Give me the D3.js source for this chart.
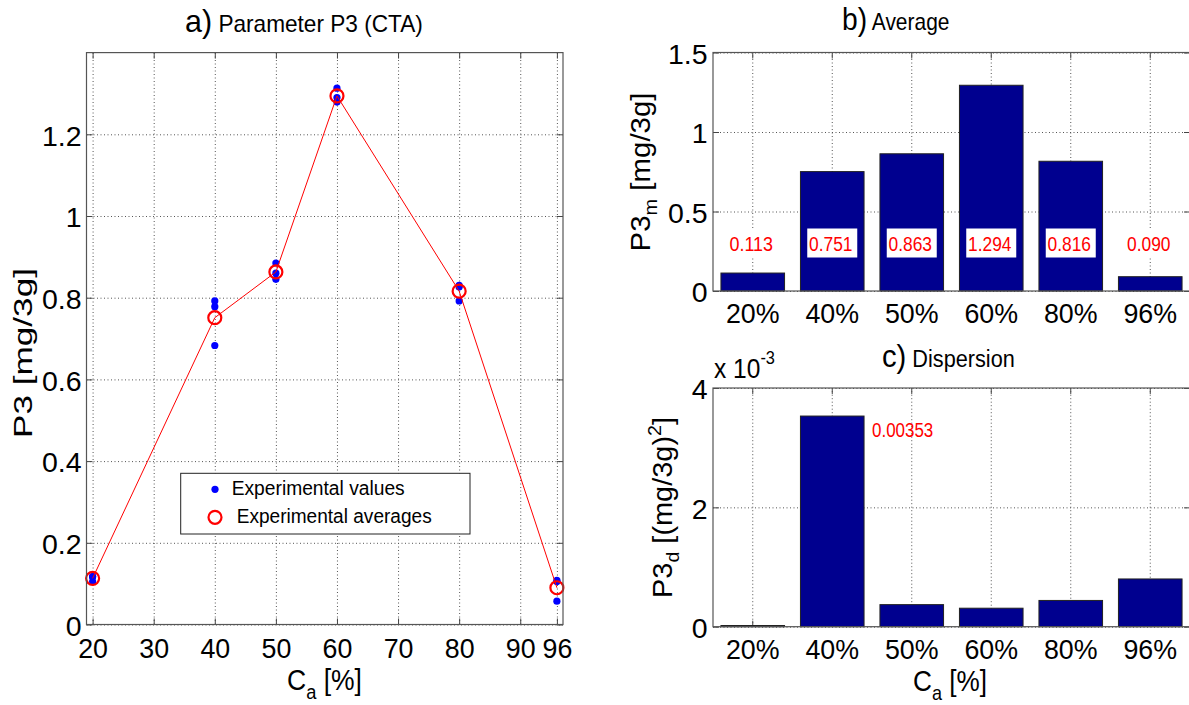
<!DOCTYPE html>
<html><head><meta charset="utf-8">
<script src="https://cdn.jsdelivr.net/npm/d3@7"></script>
<style>
body{margin:0;background:#fff;}
svg{display:block;font-family:"Liberation Sans",Arial,Helvetica,sans-serif;}
</style></head><body>
<svg id="c" width="1189" height="705"></svg>
<script>
// ---------- data ----------
const concentrations = [20, 40, 50, 60, 80, 96];
const categories = ["20%", "40%", "50%", "60%", "80%", "96%"];
const expValues = [
  [0.105, 0.116, 0.118],
  [0.792, 0.778, 0.683],
  [0.885, 0.860, 0.845],
  [1.313, 1.290, 1.279],
  [0.826, 0.830, 0.792],
  [0.108, 0.105, 0.057]
];
const averages = [0.113, 0.751, 0.863, 1.294, 0.816, 0.090];
const averageLabels = ["0.113", "0.751", "0.863", "1.294", "0.816", "0.090"];
const dispersion = [0.00002, 0.00353, 0.00037, 0.00031, 0.00044, 0.00080];
const dispersionLabel = "0.00353";
const xTicksA = [20, 30, 40, 50, 60, 70, 80, 90, 96];
const yTicksA = [0, 0.2, 0.4, 0.6, 0.8, 1.0, 1.2];
const yTickLabelsA = ["0", "0.2", "0.4", "0.6", "0.8", "1", "1.2"];
const yTicksB = [0, 0.5, 1, 1.5];
const yTickLabelsB = ["0", "0.5", "1", "1.5"];
const yTicksC = [0, 0.002, 0.004];
const yTickLabelsC = ["0", "2", "4"];
const legendLabels = ["Experimental values", "Experimental averages"];

// ---------- helpers ----------
const svg = d3.select("#c");
const TICKFONT = 28.5;
const BLUE = "#0000ff", RED = "#ff0000", NAVY = "#00008f";

function grid(x, y, xVals, yVals) {
  const [x0, x1] = x.range(), [y0, y1] = y.range();
  const g = svg.append("g");
  const gx = g.append("g").attr("transform", `translate(0,${y0})`)
    .call(d3.axisBottom(x).tickValues(xVals).tickSize(-(y0 - y1)).tickFormat(""));
  const gy = g.append("g").attr("transform", `translate(${x0},0)`)
    .call(d3.axisLeft(y).tickValues(yVals).tickSize(-(x1 - x0)).tickFormat(""));
  [gx, gy].forEach(s => {
    s.select(".domain").remove();
    s.selectAll("line").attr("stroke", "#555").attr("stroke-width", 1).attr("stroke-dasharray", "1,2.5");
  });
}

function ticks(x, y, xVals, yVals) {
  const [x0, x1] = x.range(), [y0, y1] = y.range();
  const defs = [
    [d3.axisBottom(x).tickValues(xVals), `translate(0,${y0})`],
    [d3.axisTop(x).tickValues(xVals), `translate(0,${y1})`],
    [d3.axisLeft(y).tickValues(yVals), `translate(${x0},0)`],
    [d3.axisRight(y).tickValues(yVals), `translate(${x1},0)`]
  ];
  defs.forEach(([ax, tr]) => {
    const s = svg.append("g").attr("transform", tr).call(ax.tickSize(-6).tickFormat(""));
    s.select(".domain").remove();
    s.selectAll("line").attr("stroke", "#444").attr("stroke-width", 1);
  });
}

function labels(x, y, xVals, xFmt, yVals, yFmt, xPad, yPad) {
  const [x0, x1] = x.range(), [y0, y1] = y.range();
  const bx = svg.append("g").attr("transform", `translate(0,${y0})`)
    .call(d3.axisBottom(x).tickValues(xVals).tickFormat(xFmt).tickSize(0).tickPadding(xPad));
  const by = svg.append("g").attr("transform", `translate(${x0},0)`)
    .call(d3.axisLeft(y).tickValues(yVals).tickFormat(yFmt).tickSize(0).tickPadding(yPad));
  [bx, by].forEach(s => {
    s.select(".domain").remove();
    s.selectAll("text").attr("font-size", TICKFONT).attr("fill", "#000")
      .attr("font-family", '"Liberation Sans", Arial, sans-serif');
  });
  by.selectAll("text").attr("dy", "0.38em");
  bx.selectAll("text").each(function () {
    const w = this.getComputedTextLength();
    d3.select(this).attr("textLength", w * 0.94).attr("lengthAdjust", "spacingAndGlyphs");
  });
}

function box(x, y) {
  const [x0, x1] = x.range(), [y0, y1] = y.range();
  svg.append("rect").attr("x", x0).attr("y", y1).attr("width", x1 - x0).attr("height", y0 - y1)
    .attr("fill", "none").attr("stroke", "#555").attr("stroke-width", 1.2);
}

function richLabel(x, y, rot, parts, size, targetLen, anchor = "middle") {
  const g = svg.append("g");
  const t = g.append("text").attr("font-size", size).attr("text-anchor", anchor).attr("fill", "#000");
  parts.forEach(p => {
    const ts = t.append("tspan").text(p.t);
    if (p.s) ts.attr("font-size", p.s);
    if (p.dy) ts.attr("dy", p.dy);
  });
  const len = t.node().getComputedTextLength();
  const sx = targetLen ? targetLen / len : 1;
  g.attr("transform", `translate(${x},${y}) rotate(${rot}) scale(${sx},1)`);
  return g;
}

// ---------- plot a ----------
const xA = d3.scaleLinear().domain([19, 97]).range([86.5, 563]);
const yA = d3.scaleLinear().domain([0, 1.4]).range([624.5, 52.6]);
grid(xA, yA, xTicksA, yTicksA);
ticks(xA, yA, xTicksA, yTicksA);

const pts = [];
concentrations.forEach((c, i) => expValues[i].forEach(v => pts.push([c, v])));
svg.append("g").selectAll("circle").data(pts).join("circle")
  .attr("cx", d => xA(d[0])).attr("cy", d => yA(d[1])).attr("r", 3.6).attr("fill", BLUE);

svg.append("path").datum(concentrations.map((c, i) => [c, averages[i]]))
  .attr("d", d3.line().x(d => xA(d[0])).y(d => yA(d[1])))
  .attr("fill", "none").attr("stroke", RED).attr("stroke-width", 1);
svg.append("g").selectAll("circle").data(concentrations.map((c, i) => [c, averages[i]])).join("circle")
  .attr("cx", d => xA(d[0])).attr("cy", d => yA(d[1])).attr("r", 6.5)
  .attr("fill", "none").attr("stroke", RED).attr("stroke-width", 2.2);

labels(xA, yA, xTicksA, d => String(d), yTicksA, (d, i) => yTickLabelsA[i], 13, 5);
box(xA, yA);

// legend
const lg = svg.append("g");
lg.append("rect").attr("x", 180.7).attr("y", 473.3).attr("width", 289.3).attr("height", 60.7)
  .attr("fill", "#fff").attr("stroke", "#222").attr("stroke-width", 1);
lg.append("circle").attr("cx", 215).attr("cy", 489.3).attr("r", 3.6).attr("fill", BLUE);
lg.append("circle").attr("cx", 215).attr("cy", 517.3).attr("r", 6.5).attr("fill", "none")
  .attr("stroke", RED).attr("stroke-width", 2.2);
lg.append("text").attr("x", 231.7).attr("y", 495).attr("font-size", 20).text(legendLabels[0])
  .attr("textLength", 173).attr("lengthAdjust", "spacingAndGlyphs");
lg.append("text").attr("x", 236.7).attr("y", 522.7).attr("font-size", 20).text(legendLabels[1])
  .attr("textLength", 195).attr("lengthAdjust", "spacingAndGlyphs");

richLabel(185, 31.7, 0, [{t: "a)", s: 31}, {t: " Parameter P3 (CTA)", s: 23}], 23, 238, "start");
richLabel(32, 353, -90, [{t: "P3 [mg/3g]"}], 26, 170);
richLabel(324.5, 690, 0, [{t: "C"}, {t: "a", s: 20, dy: 9}, {t: " [%]", dy: -9}], 29, 75);

// ---------- plot b ----------
const xB = d3.scaleBand().domain(categories).range([713, 1190]).paddingInner(0.2).paddingOuter(0.1);
const yB = d3.scaleLinear().domain([0, 1.5]).range([291, 52.5]);
grid(xB, yB, categories, yTicksB);
ticks(xB, yB, categories, yTicksB);
svg.append("g").selectAll("rect").data(averages).join("rect")
  .attr("x", (d, i) => xB(categories[i])).attr("width", xB.bandwidth())
  .attr("y", d => yB(d)).attr("height", d => yB(0) - yB(d))
  .attr("fill", NAVY).attr("stroke", "#222").attr("stroke-width", 1);
labels(xB, yB, categories, d => d, yTicksB, (d, i) => yTickLabelsB[i], 12, 5.5);
box(xB, yB);

const lblG = svg.append("g");
averageLabels.forEach((s, i) => {
  const cx = xB(categories[i]) + xB.bandwidth() / 2;
  const cy = yB(0.3);
  lblG.append("rect").attr("x", cx - 25).attr("y", cy - 14.8).attr("width", 50).attr("height", 29)
    .attr("fill", "#fff");
  lblG.append("text").attr("x", cx - 1.5).attr("y", cy + 7.2).attr("text-anchor", "middle")
    .attr("font-size", 20).attr("fill", RED).text(s)
    .attr("textLength", 43.5).attr("lengthAdjust", "spacingAndGlyphs");
});

richLabel(842, 30, 0, [{t: "b)", s: 31}, {t: " Average", s: 23}], 23, 107.5, "start");
richLabel(650, 172, -90, [{t: "P3"}, {t: "m", s: 19, dy: 7}, {t: " [mg/3g]", dy: -7}], 28, 159);

// ---------- plot c ----------
const yC = d3.scaleLinear().domain([0, 0.004]).range([626.7, 388]);
grid(xB, yC, categories, yTicksC);
ticks(xB, yC, categories, yTicksC);
svg.append("g").selectAll("rect").data(dispersion).join("rect")
  .attr("x", (d, i) => xB(categories[i])).attr("width", xB.bandwidth())
  .attr("y", d => yC(d)).attr("height", d => yC(0) - yC(d))
  .attr("fill", NAVY).attr("stroke", "#222").attr("stroke-width", 1);
labels(xB, yC, categories, d => d, yTicksC, (d, i) => yTickLabelsC[i], 12.5, 5.5);
box(xB, yC);

svg.append("text")
  .attr("x", xB("40%") + xB.bandwidth() + xB.step() * 0.1)
  .attr("y", yC(0.0033) + 7.2)
  .attr("font-size", 20).attr("fill", RED).text(dispersionLabel)
  .attr("textLength", 61.3).attr("lengthAdjust", "spacingAndGlyphs");

richLabel(714, 378.3, 0, [{t: "x 10"}, {t: "-3", s: 18, dy: -14}], 27, 61, "start");
richLabel(882, 366.5, 0, [{t: "c)", s: 31}, {t: " Dispersion", s: 23}], 23, 132.8, "start");
richLabel(672, 507.5, -90, [{t: "P3"}, {t: "d", s: 19, dy: 7}, {t: " [(mg/3g)", dy: -7},
  {t: "2", s: 19, dy: -11}, {t: "]", dy: 11}], 28, 181);
richLabel(950, 691, 0, [{t: "C"}, {t: "a", s: 20, dy: 9}, {t: " [%]", dy: -9}], 29, 74);
</script>
</body></html>
